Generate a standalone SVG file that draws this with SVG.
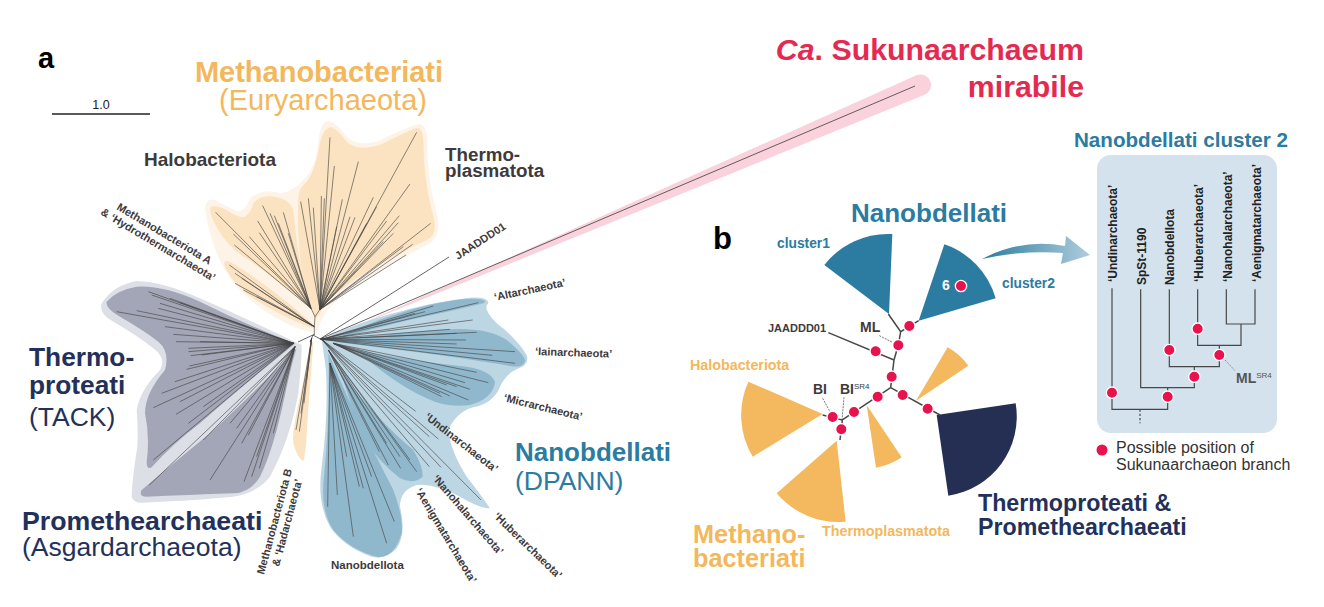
<svg xmlns="http://www.w3.org/2000/svg" width="1324" height="607" viewBox="0 0 1324 607">
<style>
text{font-family:"Liberation Sans",Arial,sans-serif}
.b{font-weight:700}
.g{fill:#3e3a3a}
.o{fill:#f3b75c}
.n{fill:#23315a}
.t{fill:#2c7ba0}
.r{fill:#e52a52}
.s{font-size:11px;font-weight:700;fill:#3e3a3a}
.k{font-size:12px;font-weight:700;fill:#222}
.lf{fill:none;stroke:#444;stroke-width:1.9}
.tr{fill:none;stroke:#484848;stroke-width:4.5}
.ct{fill:none;stroke:#484848;stroke-width:3.6}
.ld{fill:none;stroke:#555;stroke-width:2.4;stroke-dasharray:6 3}
.d{fill:#e8124f;stroke:#fff;stroke-width:4}
</style>
<defs>
<linearGradient id="ag" x1="982" y1="0" x2="1090" y2="0" gradientUnits="userSpaceOnUse"><stop offset="0" stop-color="#2c7ba0"/><stop offset="1" stop-color="#afcddb"/></linearGradient>
</defs>

<g id="panel-a-labels">
<text class="b" x="38" y="68" font-size="29" fill="#000">a</text>
<text x="101" y="109" font-size="12.5" text-anchor="middle" fill="#222">1.0</text>
<line x1="52" y1="114" x2="150" y2="114" stroke="#222" stroke-width="1.5"/>
</g>

<g id="sukuna-band">
<path d="M352,328 L917,75 A10.5,10.5 0 0 1 924,95 Z" fill="#f9d2dc"/>
</g>

<g id="euryarchaeota" transform="translate(180 110) scale(.33333)">
<path fill="#fdf3e7" d="M405,670 Q330,655 250,600 Q150,530 110,430 Q85,370 75,295 Q78,262 105,270 Q140,290 175,305 Q200,300 210,265 Q250,232 300,250 Q340,245 370,210 Q410,170 415,90 Q425,30 445,33 Q470,38 500,80 Q530,110 590,95 Q660,60 715,42 Q740,40 742,90 Q740,200 770,310 Q790,380 740,405 Q600,480 510,540 Q440,590 420,640 Q415,670 405,670Z"/>
<path fill="#fbe3c1" d="M405,625 Q375,540 365,480 Q350,380 355,265 Q355,235 380,215 Q405,185 420,100 Q432,50 455,52 Q475,60 500,95 Q530,125 600,105 Q660,75 705,55 Q728,48 730,90 Q730,210 760,320 Q775,375 740,390 Q600,455 510,520 Q440,570 420,610 Q412,625 405,625Z"/>
<path fill="#fbe3c1" d="M398,600 Q300,520 215,455 Q150,420 115,360 Q85,310 92,292 Q105,283 140,300 Q175,325 195,320 Q215,305 220,280 Q245,250 290,262 Q325,265 340,300 Q350,420 375,530 Q395,575 398,600Z"/>
<path fill="#fbe3c1" d="M400,655 Q330,630 260,590 Q170,540 140,480 Q125,455 140,452 Q165,460 220,500 Q320,570 395,640Z"/>
<path class="lf" d="M403,672V650L405,620L393,595M405,620L420,598"/>
<path class="lf" d="M403,650L148,465M403,650L165,490M403,650L165,520M403,650L185,505M403,650L190,540M403,650L230,560"/>
<path class="lf" d="M393,595L107,307M393,595L160,372M393,595L163,405M393,595L208,380M393,595L233,333M393,595L238,368M393,595L248,287M393,595L283,317M393,595L295,340M393,595L310,307M393,595L270,310M393,595L325,370"/>
<path class="lf" d="M420,598L362,275M420,598L385,265M420,598L400,293M420,598L424,258M420,598L433,265M420,598L450,82M420,598L463,168M420,598L535,155M420,598L487,268M420,598L470,350M420,598L525,322M420,598L580,262M420,598L510,320M420,598L710,67M420,598L690,222M420,598L658,317M420,598L620,333M420,598L655,338M420,598L640,370M420,598L752,340M420,598L698,403M420,598L670,410M420,598L678,435M420,598L610,395M420,598L590,290M420,598L560,340"/>
</g>

<g id="thermoproteati-promethearchaeati" transform="translate(100 280) scale(.33333)">
<path fill="#dddfe7" d="M590,188 Q450,120 300,55 Q190,5 110,3 Q40,15 5,70 Q-5,100 40,125 Q110,165 160,205 Q200,235 180,270 Q120,330 110,390 Q115,450 112,500 Q95,610 95,650 Q100,670 130,668 Q300,660 400,650 Q470,640 510,590 Q570,480 595,340 Q605,250 605,195Z"/>
<path fill="#a3a6b6" d="M585,190 Q450,140 300,65 Q190,15 110,20 Q50,30 20,65 Q15,85 60,110 Q130,150 175,185 Q210,215 195,270 Q135,340 135,400 Q150,470 140,545 Q140,570 155,562 Q220,490 300,430 Q400,340 580,195Z"/>
<path fill="#a3a6b6" d="M590,205 Q575,250 555,345 Q520,510 480,590 Q450,640 400,640 Q260,645 140,650 Q115,650 125,630 Q220,550 330,460 Q480,320 590,205Z"/>
<path class="lf" d="M580,190L145,35M580,190L155,45M580,190L210,55M580,190L180,70M580,190L240,68M580,190L175,85M580,190L110,92M580,190L50,95M580,190L195,140M580,190L220,163M580,190L228,185M580,190L300,185M580,190L265,205M580,190L265,215M580,190L272,227M580,190L305,225M580,190L260,268M580,190L268,258M580,190L225,305M580,190L185,340M580,190L160,383M580,190L240,365M580,190L228,403M580,190L265,430M580,190L310,380M580,190L160,540"/>
<path class="lf" d="M585,200L148,615M585,200L330,600M585,200L310,480M585,200L390,430M585,200L410,445M585,200L425,490M585,200L432,605M585,200L455,590M585,200L478,565M585,200L520,460M585,200L445,465M585,200L470,530"/>
</g>

<g id="methanobacteriota-b" transform="translate(100 280) scale(.33333)">
<path fill="#fbe3c1" d="M632,180 Q620,260 600,350 Q575,460 580,490 Q592,535 610,543 Q618,520 622,430 Q632,290 640,190Z"/>
<path class="lf" d="M635,175L588,450M635,175L598,455M635,175L603,400M635,175L612,370M635,175L620,300"/>
</g>

<g id="nanobdellati" transform="translate(300 270) scale(.33333)">
<path fill="#bdd6e3" d="M65,210 Q150,165 280,130 Q400,95 510,83 Q565,80 565,100 Q545,115 590,160 Q650,205 680,255 Q690,285 650,298 Q620,310 600,350 Q580,400 520,412 Q470,425 445,480 Q450,540 500,620 Q540,670 570,715 Q540,715 480,680 Q400,640 350,645 Q300,660 300,710 Q320,790 290,835 Q260,870 215,860 Q130,830 90,770 Q50,700 65,590 Q85,440 78,300 Q70,240 65,210Z"/>
<path fill="#90b8cd" d="M100,210 Q250,135 400,102 Q500,82 540,88 Q565,92 550,100 Q450,125 350,145 Q200,180 100,212Z"/>
<path fill="#90b8cd" d="M100,215 Q300,185 440,178 Q560,170 620,210 Q680,260 675,275 Q665,295 630,288 Q500,265 300,240Z"/>
<path fill="#90b8cd" d="M170,240 Q350,275 500,290 Q570,300 585,335 Q580,385 510,405 Q440,415 380,385 Q280,340 170,240Z"/>
<path fill="#90b8cd" d="M85,250 Q170,450 280,660 Q310,740 305,790 Q285,860 235,862 Q150,840 100,780 Q60,720 72,620 Q90,440 85,250Z"/>
<path fill="#90b8cd" d="M120,300 Q220,440 340,540 Q370,590 368,620 Q340,645 300,625 Q230,570 190,500 Q150,400 120,300Z"/>
<path class="lf" d="M65,208L400,108M65,208L535,98M65,208L375,125M65,208L345,130M65,208L445,150M65,208L518,150M65,208L450,178M65,208L530,187M65,208L498,210M65,208L470,222M65,208L645,245M65,208L577,256M65,208L645,280M65,208L470,190"/>
<path class="lf" d="M100,220L530,307M100,220L565,338M100,220L495,338M100,220L510,358M100,220L505,390M100,220L450,378M100,220L425,380M100,220L470,350M100,220L420,370M100,220L440,345"/>
<path class="lf" d="M65,208L347,424M65,208L388,500M65,208L415,507M65,208L423,592M65,208L388,590M65,208L543,690"/>
<path class="lf" d="M85,240L350,605M85,240L330,570M85,240L302,595M85,240L265,585M85,240L238,545M85,240L300,560M85,240L260,520"/>
<path class="lf" d="M90,280L83,710M90,280L112,675M90,280L160,800M90,280L260,820M90,280L283,755M90,280L190,655M90,280L178,650M90,280L215,620M90,280L140,560"/>
</g>

<g id="tree-a-connectors" fill="none" stroke="#333" stroke-width=".75">
<path d="M315,334L298,342M313,335L322,340M313,335L310,342"/>
<path d="M320,339L449,257"/>
<path d="M320,339L915,86"/>
</g>

<g id="panel-a-text">
<text class="b o" x="319" y="82" font-size="29" text-anchor="middle">Methanobacteriati</text>
<text class="o" x="323" y="110" font-size="29" text-anchor="middle">(Euryarchaeota)</text>
<text class="b g" x="144" y="166" font-size="19">Halobacteriota</text>
<text class="b g" x="445" y="161" font-size="18.8">Thermo-</text>
<text class="b g" x="445" y="177" font-size="18.8">plasmatota</text>
<text class="s" transform="translate(458 260) rotate(-33)">JAADDD01</text>
<text class="s" transform="translate(116 209) rotate(31)">Methanobacteriota A</text>
<text class="s" transform="translate(100 214) rotate(31)">&amp; ‘Hydrothermarchaeota’</text>
<text class="b n" x="29" y="366" font-size="26.3">Thermo-</text>
<text class="b n" x="29" y="394" font-size="26.3">proteati</text>
<text class="n" x="29" y="426" font-size="26.5">(TACK)</text>
<text class="b n" x="22" y="530" font-size="26.7">Promethearchaeati</text>
<text class="n" x="22" y="556" font-size="26.5">(Asgardarchaeota)</text>
<text class="s" transform="translate(264 575) rotate(-75)">Methanobacteriota B</text>
<text class="s" transform="translate(279 567) rotate(-75)">&amp; ‘Hadarchaeota’</text>
<text class="s" x="331" y="569" style="font-size:11.5px">Nanobdellota</text>
<text class="s" transform="translate(495 301) rotate(-12)">‘Altarchaeota’</text>
<text class="s" transform="translate(535 355) rotate(2)">‘Iainarchaeota’</text>
<text class="s" transform="translate(503 401) rotate(14)">‘Micrarchaeota’</text>
<text class="s" transform="translate(424 418) rotate(38)">‘Undinarchaeota’</text>
<text class="s" transform="translate(432 479) rotate(49)">‘Nanohalarchaeota’</text>
<text class="s" transform="translate(415 491) rotate(59)">‘Aenigmatarchaeota’</text>
<text class="s" transform="translate(493 517) rotate(44)">‘Huberarchaeota’</text>
<text class="b t" x="515" y="461" font-size="26">Nanobdellati</text>
<text class="t" x="515" y="490" font-size="26.5">(DPANN)</text>
<text class="b r" x="1084" y="60" font-size="30.3" text-anchor="end"><tspan font-style="italic">Ca</tspan>. Sukunaarchaeum</text>
<text class="b r" x="1084" y="97" font-size="30.3" text-anchor="end">mirabile</text>
</g>

<g id="panel-b-wedges" transform="translate(680 190) scale(.33333)">
<g id="cluster1"><path fill="#2c7ba0" d="M627,372L433,225A242,242 0 0 1 637,132Z"/></g>
<g id="cluster2"><path fill="#2c7ba0" d="M716,392L793,163A240,240 0 0 1 947,325Z"/></g>
<g id="wedge-small"><path fill="#f4b95f" d="M708,632L803,472A187,187 0 0 1 865,527Z"/></g>
<g id="halobacteriota"><path fill="#f4b95f" d="M428,672L205,575A243,243 0 0 0 218,800Z"/></g>
<g id="thermoplasmatota"><path fill="#f4b95f" d="M560,645L665,802A190,190 0 0 1 588,833Z"/></g>
<g id="methano"><path fill="#f4b95f" d="M470,752L290,910A243,243 0 0 0 497,995Z"/></g>
<g id="thermo-prome"><path fill="#252f54" d="M770,675L1007,640A240,240 0 0 1 805,917Z"/></g>
</g>

<g id="panel-b-connectors" transform="translate(680 190) scale(.33333)">
<path class="tr" d="M625,372L662,425L716,392M662,425L655,465L642,510L632,593M445,428L642,510M632,593L487,690M632,593L780,675M428,675L487,690L480,750"/>
<path class="ld" d="M598,437L638,457M428,625L450,665M492,622L486,690"/>
</g>

<g id="panel-b-dots" transform="translate(680 190) scale(.33333)">
<circle class="d" cx="688" cy="408" r="17"/><circle class="d" cx="655" cy="466" r="17"/><circle class="d" cx="587" cy="484" r="17"/><circle class="d" cx="635" cy="560" r="17"/><circle class="d" cx="593" cy="620" r="17"/><circle class="d" cx="522" cy="666" r="17"/><circle class="d" cx="458" cy="681" r="17"/><circle class="d" cx="484" cy="718" r="17"/><circle class="d" cx="668" cy="615" r="17"/><circle class="d" cx="743" cy="656" r="17"/><circle class="d" cx="843" cy="288" r="17"/>
</g>

<g id="panel-b-text">
<text class="b" x="713" y="249" font-size="31" fill="#000">b</text>
<text class="b t" x="851" y="222" font-size="26">Nanobdellati</text>
<text class="b t" x="777" y="248" font-size="13.8">cluster1</text>
<text class="b t" x="1002" y="288" font-size="13.8">cluster2</text>
<text class="s" x="768" y="332">JAADDD01</text>
<text class="b g" x="860" y="332" font-size="14">ML</text>
<text class="b o" x="690" y="370" font-size="14.3">Halobacteriota</text>
<text class="b g" x="813" y="394" font-size="14">BI</text>
<text class="b g" x="840" y="394" font-size="14">BI<tspan font-size="8" dy="-5" font-weight="400">SR4</tspan></text>
<text class="b" x="942" y="290" font-size="14" fill="#fff">6</text>
<text class="b o" x="822" y="536" font-size="14.3">Thermoplasmatota</text>
<text class="b o" x="693" y="543" font-size="25.3">Methano-</text>
<text class="b o" x="693" y="567" font-size="25.3">bacteriati</text>
<text class="b n" x="978" y="511" font-size="23.2">Thermoproteati &amp;</text>
<text class="b n" x="978" y="535" font-size="23.2">Promethearchaeati</text>
</g>

<g id="arrow">
<path fill="url(#ag)" d="M982,259 Q1022,238 1065,246 L1066,236 L1090,255 L1061,264 L1063,253 Q1022,250 982,259Z"/>
</g>

<g id="cluster-2-panel">
<text class="b t" x="1074" y="147" font-size="20.6">Nanobdellati cluster 2</text>
<rect x="1097" y="155" width="180" height="278" rx="14" fill="#d3e2ec"/>
<text class="k" transform="translate(1117 282) rotate(-90)">‘Undinarchaeota’</text>
<text class="k" transform="translate(1146 285) rotate(-90)">SpSt-1190</text>
<text class="k" transform="translate(1174 285) rotate(-90)">Nanobdellota</text>
<text class="k" transform="translate(1203 282) rotate(-90)">‘Huberarchaeota’</text>
<text class="k" transform="translate(1232 282) rotate(-90)">‘Nanohalarchaeota’</text>
<text class="k" transform="translate(1261 282) rotate(-90)">‘Aenigmatarchaeota’</text>
<g transform="translate(1060 120) scale(.33333)">
<path class="ct" d="M156,505V868H323V803M242,508V803H403V740M328,508V740H478V676M413,508V676H543V612M499,508V612H585V508"/>
<path class="ct" style="stroke-dasharray:7 6" d="M240,868V910"/>
<path class="ld" style="stroke-dasharray:4 3;stroke-width:2" d="M495,720L525,752"/>
<circle class="d" cx="156" cy="818" r="17"/><circle class="d" cx="323" cy="830" r="17"/><circle class="d" cx="403" cy="770" r="17"/><circle class="d" cx="328" cy="690" r="17"/><circle class="d" cx="478" cy="705" r="17"/><circle class="d" cx="413" cy="626" r="17"/>
</g>
<text class="b" x="1236" y="383" font-size="14" fill="#555">ML<tspan font-size="8" dy="-5" font-weight="400">SR4</tspan></text>
</g>

<g id="legend">
<circle cx="1102" cy="450" r="5.5" fill="#e8124f"/>
<text x="1116" y="453" font-size="16" fill="#333">Possible position of</text>
<text x="1116" y="470" font-size="16" fill="#333">Sukunaarchaeon branch</text>
</g>
</svg>
